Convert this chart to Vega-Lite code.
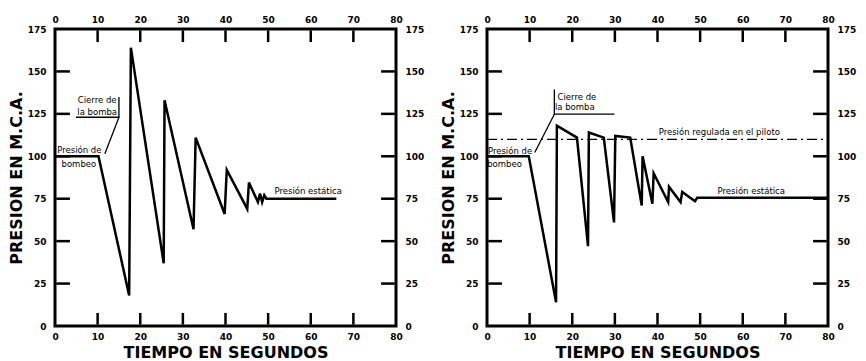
{
  "$schema": "https://vega.github.io/schema/vega-lite/v6.json",
  "background": "white",
  "padding": {"left": 6, "top": 13, "right": 5, "bottom": 0},
  "spacing": 12,
  "datasets": {
    "left": [
      {"i": 0, "t": 0, "p": 100}, {"i": 1, "t": 10.2, "p": 100}, {"i": 2, "t": 17.4, "p": 18},
      {"i": 3, "t": 17.8, "p": 164}, {"i": 4, "t": 25.5, "p": 37}, {"i": 5, "t": 25.7, "p": 133},
      {"i": 6, "t": 32.5, "p": 57}, {"i": 7, "t": 33.0, "p": 111}, {"i": 8, "t": 39.8, "p": 66},
      {"i": 9, "t": 40.3, "p": 92}, {"i": 10, "t": 45.1, "p": 69}, {"i": 11, "t": 45.5, "p": 84.5},
      {"i": 12, "t": 47.6, "p": 73}, {"i": 13, "t": 48.1, "p": 78}, {"i": 14, "t": 48.6, "p": 73},
      {"i": 15, "t": 49.1, "p": 77}, {"i": 16, "t": 49.6, "p": 75}, {"i": 17, "t": 66, "p": 75}
    ],
    "right": [
      {"i": 0, "t": 0, "p": 100}, {"i": 1, "t": 9.8, "p": 100}, {"i": 2, "t": 16.2, "p": 14},
      {"i": 3, "t": 16.4, "p": 118}, {"i": 4, "t": 21.1, "p": 111}, {"i": 5, "t": 23.7, "p": 47},
      {"i": 6, "t": 23.9, "p": 114}, {"i": 7, "t": 27.4, "p": 111}, {"i": 8, "t": 29.8, "p": 61},
      {"i": 9, "t": 30.1, "p": 112}, {"i": 10, "t": 33.6, "p": 111}, {"i": 11, "t": 36.3, "p": 71},
      {"i": 12, "t": 36.5, "p": 100}, {"i": 13, "t": 38.8, "p": 72}, {"i": 14, "t": 39.1, "p": 90},
      {"i": 15, "t": 42.5, "p": 73}, {"i": 16, "t": 42.7, "p": 82}, {"i": 17, "t": 45.4, "p": 73},
      {"i": 18, "t": 45.8, "p": 79}, {"i": 19, "t": 48.8, "p": 73.5}, {"i": 20, "t": 49.3, "p": 75.5},
      {"i": 21, "t": 80, "p": 75.5}
    ],
    "leftAnn": [
      {"kind": "callout", "seg": "a", "i": 0, "t": 4.9, "p": 123}, {"kind": "callout", "seg": "a", "i": 1, "t": 15.0, "p": 123}, {"kind": "callout", "seg": "a", "i": 2, "t": 15.0, "p": 135},
      {"kind": "callout", "seg": "b", "i": 0, "t": 15.0, "p": 123}, {"kind": "callout", "seg": "b", "i": 1, "t": 11.7, "p": 101.5},
      {"kind": "tick", "seg": "b10", "i": 0, "t": 10, "p": 0.8}, {"kind": "tick", "seg": "b10", "i": 1, "t": 10, "p": 7.7},
      {"kind": "tick", "seg": "b20", "i": 0, "t": 20, "p": 0.8}, {"kind": "tick", "seg": "b20", "i": 1, "t": 20, "p": 7.7},
      {"kind": "tick", "seg": "b30", "i": 0, "t": 30, "p": 0.8}, {"kind": "tick", "seg": "b30", "i": 1, "t": 30, "p": 7.7},
      {"kind": "tick", "seg": "b40", "i": 0, "t": 40, "p": 0.8}, {"kind": "tick", "seg": "b40", "i": 1, "t": 40, "p": 7.7},
      {"kind": "tick", "seg": "b50", "i": 0, "t": 50, "p": 0.8}, {"kind": "tick", "seg": "b50", "i": 1, "t": 50, "p": 7.7},
      {"kind": "tick", "seg": "b60", "i": 0, "t": 60, "p": 0.8}, {"kind": "tick", "seg": "b60", "i": 1, "t": 60, "p": 7.7},
      {"kind": "tick", "seg": "b70", "i": 0, "t": 70, "p": 0.8}, {"kind": "tick", "seg": "b70", "i": 1, "t": 70, "p": 7.7},
      {"kind": "tick", "seg": "t10", "i": 0, "t": 10, "p": 174.2}, {"kind": "tick", "seg": "t10", "i": 1, "t": 10, "p": 167.3},
      {"kind": "tick", "seg": "t20", "i": 0, "t": 20, "p": 174.2}, {"kind": "tick", "seg": "t20", "i": 1, "t": 20, "p": 167.3},
      {"kind": "tick", "seg": "t30", "i": 0, "t": 30, "p": 174.2}, {"kind": "tick", "seg": "t30", "i": 1, "t": 30, "p": 167.3},
      {"kind": "tick", "seg": "t40", "i": 0, "t": 40, "p": 174.2}, {"kind": "tick", "seg": "t40", "i": 1, "t": 40, "p": 167.3},
      {"kind": "tick", "seg": "t50", "i": 0, "t": 50, "p": 174.2}, {"kind": "tick", "seg": "t50", "i": 1, "t": 50, "p": 167.3},
      {"kind": "tick", "seg": "t60", "i": 0, "t": 60, "p": 174.2}, {"kind": "tick", "seg": "t60", "i": 1, "t": 60, "p": 167.3},
      {"kind": "tick", "seg": "t70", "i": 0, "t": 70, "p": 174.2}, {"kind": "tick", "seg": "t70", "i": 1, "t": 70, "p": 167.3},
      {"kind": "tick", "seg": "l25", "i": 0, "t": 0.3, "p": 25}, {"kind": "tick", "seg": "l25", "i": 1, "t": 3.5, "p": 25},
      {"kind": "tick", "seg": "l50", "i": 0, "t": 0.3, "p": 50}, {"kind": "tick", "seg": "l50", "i": 1, "t": 3.5, "p": 50},
      {"kind": "tick", "seg": "l75", "i": 0, "t": 0.3, "p": 75}, {"kind": "tick", "seg": "l75", "i": 1, "t": 3.5, "p": 75},
      {"kind": "tick", "seg": "l100", "i": 0, "t": 0.3, "p": 100}, {"kind": "tick", "seg": "l100", "i": 1, "t": 3.5, "p": 100},
      {"kind": "tick", "seg": "l125", "i": 0, "t": 0.3, "p": 125}, {"kind": "tick", "seg": "l125", "i": 1, "t": 3.5, "p": 125},
      {"kind": "tick", "seg": "l150", "i": 0, "t": 0.3, "p": 150}, {"kind": "tick", "seg": "l150", "i": 1, "t": 3.5, "p": 150},
      {"kind": "tick", "seg": "r25", "i": 0, "t": 79.7, "p": 25}, {"kind": "tick", "seg": "r25", "i": 1, "t": 76.5, "p": 25},
      {"kind": "tick", "seg": "r50", "i": 0, "t": 79.7, "p": 50}, {"kind": "tick", "seg": "r50", "i": 1, "t": 76.5, "p": 50},
      {"kind": "tick", "seg": "r75", "i": 0, "t": 79.7, "p": 75}, {"kind": "tick", "seg": "r75", "i": 1, "t": 76.5, "p": 75},
      {"kind": "tick", "seg": "r100", "i": 0, "t": 79.7, "p": 100}, {"kind": "tick", "seg": "r100", "i": 1, "t": 76.5, "p": 100},
      {"kind": "tick", "seg": "r125", "i": 0, "t": 79.7, "p": 125}, {"kind": "tick", "seg": "r125", "i": 1, "t": 76.5, "p": 125},
      {"kind": "tick", "seg": "r150", "i": 0, "t": 79.7, "p": 150}, {"kind": "tick", "seg": "r150", "i": 1, "t": 76.5, "p": 150}
    ],
    "rightAnn": [
      {"kind": "callout", "seg": "a", "i": 0, "t": 29.9, "p": 124.8}, {"kind": "callout", "seg": "a", "i": 1, "t": 15.8, "p": 124.8}, {"kind": "callout", "seg": "a", "i": 2, "t": 15.8, "p": 139.4},
      {"kind": "callout", "seg": "b", "i": 0, "t": 15.8, "p": 124.8}, {"kind": "callout", "seg": "b", "i": 1, "t": 11.2, "p": 102.2},
      {"kind": "tick", "seg": "b10", "i": 0, "t": 10, "p": 0.8}, {"kind": "tick", "seg": "b10", "i": 1, "t": 10, "p": 7.7},
      {"kind": "tick", "seg": "b20", "i": 0, "t": 20, "p": 0.8}, {"kind": "tick", "seg": "b20", "i": 1, "t": 20, "p": 7.7},
      {"kind": "tick", "seg": "b30", "i": 0, "t": 30, "p": 0.8}, {"kind": "tick", "seg": "b30", "i": 1, "t": 30, "p": 7.7},
      {"kind": "tick", "seg": "b40", "i": 0, "t": 40, "p": 0.8}, {"kind": "tick", "seg": "b40", "i": 1, "t": 40, "p": 7.7},
      {"kind": "tick", "seg": "b50", "i": 0, "t": 50, "p": 0.8}, {"kind": "tick", "seg": "b50", "i": 1, "t": 50, "p": 7.7},
      {"kind": "tick", "seg": "b60", "i": 0, "t": 60, "p": 0.8}, {"kind": "tick", "seg": "b60", "i": 1, "t": 60, "p": 7.7},
      {"kind": "tick", "seg": "b70", "i": 0, "t": 70, "p": 0.8}, {"kind": "tick", "seg": "b70", "i": 1, "t": 70, "p": 7.7},
      {"kind": "tick", "seg": "t10", "i": 0, "t": 10, "p": 174.2}, {"kind": "tick", "seg": "t10", "i": 1, "t": 10, "p": 167.3},
      {"kind": "tick", "seg": "t20", "i": 0, "t": 20, "p": 174.2}, {"kind": "tick", "seg": "t20", "i": 1, "t": 20, "p": 167.3},
      {"kind": "tick", "seg": "t30", "i": 0, "t": 30, "p": 174.2}, {"kind": "tick", "seg": "t30", "i": 1, "t": 30, "p": 167.3},
      {"kind": "tick", "seg": "t40", "i": 0, "t": 40, "p": 174.2}, {"kind": "tick", "seg": "t40", "i": 1, "t": 40, "p": 167.3},
      {"kind": "tick", "seg": "t50", "i": 0, "t": 50, "p": 174.2}, {"kind": "tick", "seg": "t50", "i": 1, "t": 50, "p": 167.3},
      {"kind": "tick", "seg": "t60", "i": 0, "t": 60, "p": 174.2}, {"kind": "tick", "seg": "t60", "i": 1, "t": 60, "p": 167.3},
      {"kind": "tick", "seg": "t70", "i": 0, "t": 70, "p": 174.2}, {"kind": "tick", "seg": "t70", "i": 1, "t": 70, "p": 167.3},
      {"kind": "tick", "seg": "l25", "i": 0, "t": 0.3, "p": 25}, {"kind": "tick", "seg": "l25", "i": 1, "t": 3.5, "p": 25},
      {"kind": "tick", "seg": "l50", "i": 0, "t": 0.3, "p": 50}, {"kind": "tick", "seg": "l50", "i": 1, "t": 3.5, "p": 50},
      {"kind": "tick", "seg": "l75", "i": 0, "t": 0.3, "p": 75}, {"kind": "tick", "seg": "l75", "i": 1, "t": 3.5, "p": 75},
      {"kind": "tick", "seg": "l100", "i": 0, "t": 0.3, "p": 100}, {"kind": "tick", "seg": "l100", "i": 1, "t": 3.5, "p": 100},
      {"kind": "tick", "seg": "l125", "i": 0, "t": 0.3, "p": 125}, {"kind": "tick", "seg": "l125", "i": 1, "t": 3.5, "p": 125},
      {"kind": "tick", "seg": "l150", "i": 0, "t": 0.3, "p": 150}, {"kind": "tick", "seg": "l150", "i": 1, "t": 3.5, "p": 150},
      {"kind": "tick", "seg": "r25", "i": 0, "t": 79.7, "p": 25}, {"kind": "tick", "seg": "r25", "i": 1, "t": 76.5, "p": 25},
      {"kind": "tick", "seg": "r50", "i": 0, "t": 79.7, "p": 50}, {"kind": "tick", "seg": "r50", "i": 1, "t": 76.5, "p": 50},
      {"kind": "tick", "seg": "r75", "i": 0, "t": 79.7, "p": 75}, {"kind": "tick", "seg": "r75", "i": 1, "t": 76.5, "p": 75},
      {"kind": "tick", "seg": "r100", "i": 0, "t": 79.7, "p": 100}, {"kind": "tick", "seg": "r100", "i": 1, "t": 76.5, "p": 100},
      {"kind": "tick", "seg": "r125", "i": 0, "t": 79.7, "p": 125}, {"kind": "tick", "seg": "r125", "i": 1, "t": 76.5, "p": 125},
      {"kind": "tick", "seg": "r150", "i": 0, "t": 79.7, "p": 150}, {"kind": "tick", "seg": "r150", "i": 1, "t": 76.5, "p": 150}
    ],
    "leftText": [
      {"t": 9.9, "p": 133, "label": "Cierre de"},
      {"t": 9.9, "p": 126, "label": "la bomba"},
      {"t": 5.7, "p": 103.5, "label": "Presión de"},
      {"t": 5.6, "p": 95.5, "label": "bombeo"},
      {"t": 59.4, "p": 79.5, "label": "Presión estática"}
    ],
    "rightText": [
      {"t": 21.1, "p": 135, "label": "Cierre de"},
      {"t": 20.6, "p": 129, "label": "la bomba"},
      {"t": 5.4, "p": 103.3, "label": "Presión de"},
      {"t": 4.1, "p": 95.5, "label": "bombeo"},
      {"t": 62, "p": 79.5, "label": "Presión estática"},
      {"t": 54.5, "p": 114.4, "label": "Presión regulada en el piloto"}
    ],
    "pilot": [{"t": 0, "p": 110}, {"t": 80, "p": 110}]
  },
  "hconcat": [
    {
      "width": 341, "height": 297,
      "resolve": {"axis": {"x": "independent", "y": "independent"}},
      "layer": [
        {
          "data": {"name": "left"},
          "mark": {"type": "line", "color": "black", "strokeWidth": 2.5},
          "encoding": {
            "x": {"field": "t", "type": "quantitative", "scale": {"domain": [0, 80], "nice": false},
                  "axis": {"orient": "bottom", "title": "TIEMPO EN SEGUNDOS", "values": [0,10,20,30,40,50,60,70,80]}},
            "y": {"field": "p", "type": "quantitative", "scale": {"domain": [0, 175], "nice": false},
                  "axis": {"orient": "left", "title": "PRESION EN M.C.A.", "values": [0,25,50,75,100,125,150,175]}},
            "order": {"field": "i"}
          }
        },
        {
          "data": {"name": "leftAnn"},
          "mark": {"type": "line", "color": "black", "strokeCap": "butt"},
          "encoding": {
            "x": {"field": "t", "type": "quantitative", "axis": {"orient": "top", "title": null, "values": [0,10,20,30,40,50,60,70,80], "labelPadding": 5}},
            "y": {"field": "p", "type": "quantitative", "axis": {"orient": "right", "title": null, "values": [0,25,50,75,100,125,150,175]}},
            "detail": {"field": "seg"},
            "strokeWidth": {"field": "kind", "type": "nominal", "scale": {"domain": ["tick", "callout"], "range": [2.5, 1.3]}, "legend": null},
            "order": {"field": "i"}
          }
        },
        {
          "data": {"name": "leftText"},
          "mark": {"type": "text", "font": "DejaVu Sans", "fontSize": 8.5, "color": "black"},
          "encoding": {
            "x": {"field": "t", "type": "quantitative", "axis": null},
            "y": {"field": "p", "type": "quantitative", "axis": null},
            "text": {"field": "label"}
          }
        }
      ]
    },
    {
      "width": 341, "height": 297,
      "resolve": {"axis": {"x": "independent", "y": "independent"}},
      "layer": [
        {
          "data": {"name": "right"},
          "mark": {"type": "line", "color": "black", "strokeWidth": 2.5},
          "encoding": {
            "x": {"field": "t", "type": "quantitative", "scale": {"domain": [0, 80], "nice": false},
                  "axis": {"orient": "bottom", "title": "TIEMPO EN SEGUNDOS", "values": [0,10,20,30,40,50,60,70,80]}},
            "y": {"field": "p", "type": "quantitative", "scale": {"domain": [0, 175], "nice": false},
                  "axis": {"orient": "left", "title": "PRESION EN M.C.A.", "values": [0,25,50,75,100,125,150,175]}},
            "order": {"field": "i"}
          }
        },
        {
          "data": {"name": "rightAnn"},
          "mark": {"type": "line", "color": "black", "strokeCap": "butt"},
          "encoding": {
            "x": {"field": "t", "type": "quantitative", "axis": {"orient": "top", "title": null, "values": [0,10,20,30,40,50,60,70,80], "labelPadding": 5}},
            "y": {"field": "p", "type": "quantitative", "axis": {"orient": "right", "title": null, "values": [0,25,50,75,100,125,150,175]}},
            "detail": {"field": "seg"},
            "strokeWidth": {"field": "kind", "type": "nominal", "scale": {"domain": ["tick", "callout"], "range": [2.5, 1.3]}, "legend": null},
            "order": {"field": "i"}
          }
        },
        {
          "data": {"name": "pilot"},
          "mark": {"type": "line", "color": "black", "strokeWidth": 1.3, "strokeDash": [10, 4, 2, 4]},
          "encoding": {
            "x": {"field": "t", "type": "quantitative", "axis": null},
            "y": {"field": "p", "type": "quantitative", "axis": null}
          }
        },
        {
          "data": {"name": "rightText"},
          "mark": {"type": "text", "font": "DejaVu Sans", "fontSize": 8.5, "color": "black"},
          "encoding": {
            "x": {"field": "t", "type": "quantitative", "axis": null},
            "y": {"field": "p", "type": "quantitative", "axis": null},
            "text": {"field": "label"}
          }
        }
      ]
    }
  ],
  "config": {
    "view": {"stroke": "black", "strokeWidth": 3},
    "axis": {
      "domain": false, "ticks": false, "grid": false,
      "labelFont": "DejaVu Sans", "labelFontWeight": "bold", "labelFontSize": 9, "labelColor": "black",
      "labelFlush": false,
      "titleFont": "DejaVu Sans", "titleFontWeight": "bold", "titleFontSize": 16, "titleColor": "black"
    },
    "axisX": {"labelPadding": 6, "titlePadding": 3},
    "axisY": {"labelPadding": 9, "titlePadding": 3}
  }
}
